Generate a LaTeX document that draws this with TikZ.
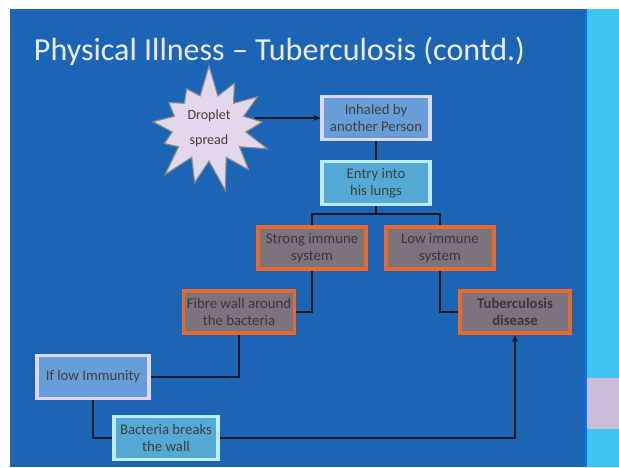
\documentclass[tikz,border=0pt]{standalone}
\usepackage{fontspec}
\setmainfont{Carlito}
\usetikzlibrary{positioning,arrows.meta,shapes.symbols}
\definecolor{slideblue}{RGB}{28,100,180}
\definecolor{sidecyan}{RGB}{62,198,240}
\definecolor{sidepink}{RGB}{204,188,218}
\definecolor{stepblue}{RGB}{104,158,216}
\definecolor{steprim}{RGB}{222,214,244}
\definecolor{stepteal}{RGB}{84,170,212}
\definecolor{tealrim}{RGB}{188,236,248}
\definecolor{immgray}{RGB}{122,117,122}
\definecolor{immrim}{RGB}{234,104,46}
\definecolor{burstfill}{RGB}{226,216,234}

\begin{document}
\begin{tikzpicture}[x=0.025cm, y=-0.025cm, font=\fontsize{10.5}{12.5}\selectfont,
    >={Stealth[length=5pt,width=4pt]},
    bluebox/.style={draw=steprim, fill=stepblue, line width=2.2pt, align=center,
                    text=black!75, minimum width=2.7cm, minimum height=1.08cm, inner sep=2pt},
    tealbox/.style={bluebox, draw=tealrim, fill=stepteal},
    graybox/.style={draw=immrim, fill=immgray, line width=2.6pt, align=center,
                    text=black!78, minimum width=2.7cm, minimum height=1.05cm, inner sep=2pt},
    link/.style={draw=black!90, line width=1pt}]
  % slide background and side strip
  \fill[slideblue] (10,9) rectangle (586,467);
  \fill[sidecyan] (586,9) rectangle (619,467);
  \fill[sidepink] (586,378) rectangle (619,429);
  \draw[blue!55!cyan, line width=0.8pt] (586,9) -- (586,467);
  \useasboundingbox (0,0) rectangle (619,467);

  \node[text=white!92!blue, font=\fontsize{22.8}{27}\selectfont, anchor=base west] (title) at (29,60)
    {Physical Illness -- Tuberculosis (contd.)};

  \node[starburst, starburst points=13, starburst point height=0.8cm, random starburst=7,
        draw=black!45, fill=burstfill, line width=0.8pt, minimum width=3.45cm, minimum height=3.1cm,
        align=center, text=black!75, font=\fontsize{10}{12}\selectfont] (drop) at (209,128)
    {Droplet\\[6pt]spread};

  \node[bluebox] (inhaled) at (376,118) {Inhaled by\\another Person};
  \node[tealbox] (entry)   at (376,183) {Entry into\\his lungs};
  \node[graybox] (strong)  at (312,248) {Strong immune\\system};
  \node[graybox] (low)     at (440,248) {Low immune\\system};
  \node[graybox, minimum width=2.78cm] (fibre) at (239,312) {Fibre wall around\\the bacteria};
  \node[graybox, minimum width=2.76cm, font=\fontsize{10.5}{12.5}\selectfont\bfseries] (tb) at (515,312)
    {Tuberculosis\\disease};
  \node[bluebox, minimum width=2.8cm] (iflow) at (93,377) {If low Immunity};
  \node[tealbox, minimum width=2.6cm] (bact)  at (166,438) {Bacteria breaks\\the wall};

  \draw[link, ->, shorten <=1.15cm] (drop.center |- inhaled.west) -- (inhaled.west);
  \draw[link] (inhaled) -- (entry);
  \draw[link] (entry.south) -- ++(0,8) -| (strong.north);
  \draw[link] (entry.south) -- ++(0,8) -| (low.north);
  \draw[link] (strong.south) |- (fibre.east);
  \draw[link] (low.south) |- (tb.west);
  \draw[link] (fibre.south) |- (iflow.east);
  \draw[link] (iflow.south) |- (bact.west);
  \draw[link, ->] (bact.east) -| (tb.south);
\end{tikzpicture}
\end{document}
